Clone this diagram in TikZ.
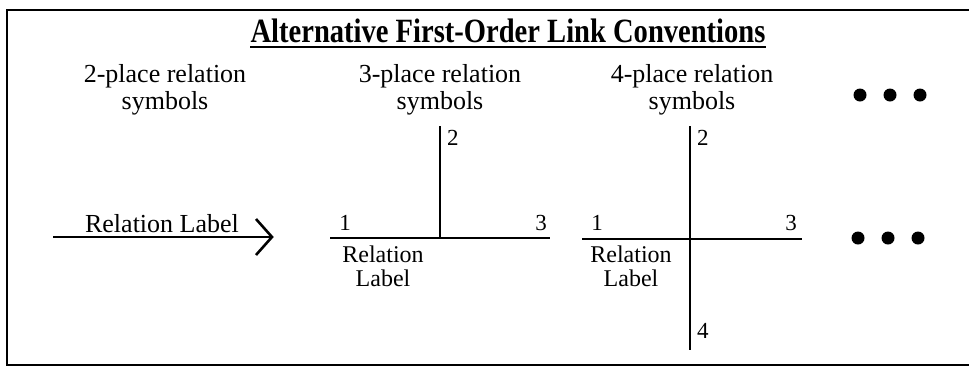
\documentclass[tikz,border=0pt]{standalone}
\usepackage{fontspec}
\setmainfont{Liberation Serif}
\begin{document}
\begin{tikzpicture}[x=1pt,y=-1pt,
  lbl/.style={inner sep=0pt,font=\fontsize{26}{27}\selectfont,align=center},
  sub/.style={inner sep=0pt,font=\fontsize{24}{23.5}\selectfont,align=center},
  num/.style={inner sep=0pt,font=\fontsize{23}{23}\selectfont,anchor=base},
  bar/.style={line width=2.8pt},
  dot/.style={circle,fill=black,inner sep=0pt,minimum size=13pt}]
\useasboundingbox (0,0) rectangle (969,368);
\draw[line width=2pt] (975,10) -- (7,10) -- (7,365) -- (975,365);
% title
\node[inner sep=0pt,font=\fontsize{34}{34}\selectfont\bfseries,anchor=base] (title) at (508,42) {\scalebox{0.84}[1]{Alternative First-Order Link Conventions}};
\draw[line width=1.8pt] ([yshift=-5pt]title.base west) -- ([yshift=-5pt]title.base east);
% headings
\node[lbl] (h2) at (165,90) {2-place relation\\symbols};
\node[lbl] (h3) at (440,90) {3-place relation\\symbols};
\node[lbl] (h4) at (692,90) {4-place relation\\symbols};
% dots top
\node[dot] (d1) at (860,95) {};
\node[dot] (d2) at (890,95) {};
\node[dot] (d3) at (920,95) {};
% 2-place arrow
\coordinate (a0) at (53,237);
\coordinate (a1) at (272,237);
\draw[bar] (a0) -- (a1);
\draw[line width=2.6pt,line join=miter] ([shift={(-16,-18)}]a1) -- (a1) -- ([shift={(-16,18)}]a1);
\node[lbl,anchor=base] (rl2) at (162,232) {Relation Label};
% 3-place
\coordinate (t1) at (330,238);
\coordinate (t3) at (550,238);
\coordinate (tc) at (440,238);
\coordinate (t2) at (440,126);
\draw[bar] (t1) -- (t3);
\draw[bar] (tc) -- (t2);
\node[num] (n31) at (345,230) {1};
\node[num] (n33) at (541,230) {3};
\node[num,anchor=north west] (n32) at (447,130) {2};
\node[sub,anchor=north] (rl3) at (383,246) {Relation\\Label};
% 4-place
\coordinate (f1) at (582,239);
\coordinate (f3) at (802,239);
\coordinate (f2) at (690,126);
\coordinate (f4) at (690,350);
\draw[bar] (f1) -- (f3);
\draw[bar] (f2) -- (f4);
\node[num] (n41) at (597,230) {1};
\node[num] (n43) at (791,230) {3};
\node[num,anchor=north west] (n42) at (697,130) {2};
\node[num,anchor=north west] (n44) at (697,323) {4};
\node[sub,anchor=north] (rl4) at (631,246) {Relation\\Label};
% dots bottom
\node[dot] (e1) at (858,238) {};
\node[dot] (e2) at (888,238) {};
\node[dot] (e3) at (918,238) {};
\end{tikzpicture}
\end{document}
